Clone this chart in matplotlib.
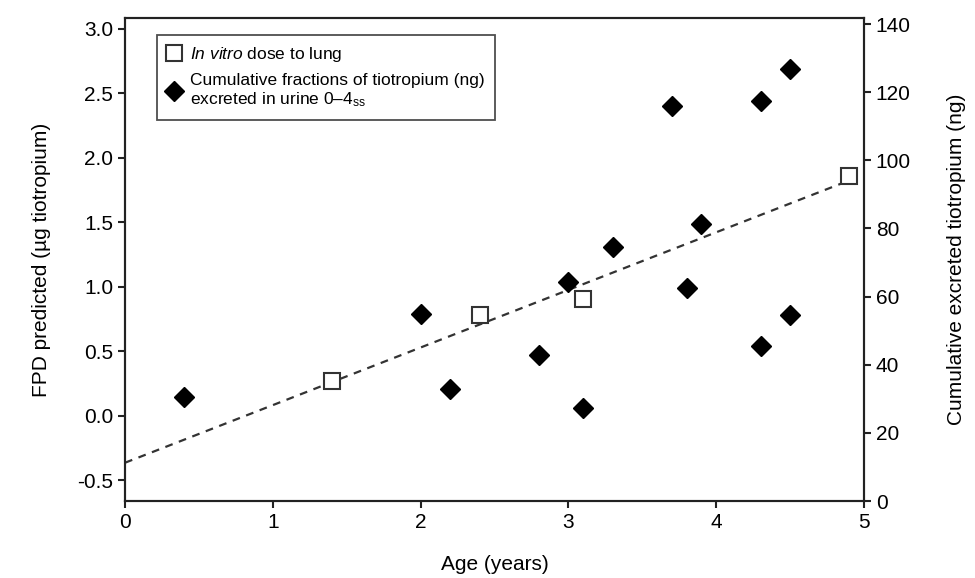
import numpy as np
import matplotlib
matplotlib.use("Agg")
import matplotlib.pyplot as plt
from matplotlib.lines import Line2D

plt.rcParams["font.family"] = ["Liberation Sans", "DejaVu Sans"]
plt.rcParams["mathtext.fontset"] = "custom"
plt.rcParams["mathtext.rm"] = "Liberation Sans"
plt.rcParams["mathtext.it"] = "Liberation Sans:italic"

# in vitro dose to lung (left axis, ug)
vitro_age = [1.4, 2.4, 3.1, 4.9]
vitro_fpd = [0.27, 0.78, 0.91, 1.86]

# cumulative excreted tiotropium (right axis, ng)
urine_age = [0.4, 2.0, 2.2, 2.8, 3.0, 3.1, 3.3, 3.7, 3.8, 3.9, 4.3, 4.3, 4.5, 4.5]
urine_ng = [30.4, 54.8, 33.0, 43.0, 64.4, 27.2, 74.5, 116.0, 62.6, 81.4,
            117.5, 45.4, 126.7, 54.7]

left_ticks = [-0.5, 0.0, 0.5, 1.0, 1.5, 2.0, 2.5, 3.0]
right_ticks = [0, 20, 40, 60, 80, 100, 120, 140]

fig = plt.figure(figsize=(9.75, 5.78), dpi=100)
ax = fig.add_axes([0.1282, 0.1332, 0.7580, 0.8357])
ax2 = ax.twinx()

# regression line through the in vitro points
slope, icpt = np.polyfit(vitro_age, vitro_fpd, 1)
xs = np.array([0, vitro_age[-1]])
ax.plot(xs, slope * xs + icpt, linestyle=(0, (3.5, 3)), color="#333333", lw=1.6, zorder=2)

ax.plot(vitro_age, vitro_fpd, linestyle="none", marker="s", markersize=11,
        markerfacecolor="white", markeredgecolor="#333333", markeredgewidth=1.5, zorder=3)
ax2.plot(urine_age, urine_ng, linestyle="none", marker="D", markersize=10,
         color="black", zorder=3)

ax.set_xlim(0, 5)
ax.set_ylim(-0.659, 3.085)
ax2.set_ylim(0, 141.8)
ax.set_yticks(left_ticks)
ax.set_yticklabels([f"{v:.1f}" for v in left_ticks])
ax2.set_yticks(right_ticks)

for a in (ax, ax2):
    for s in a.spines.values():
        s.set_linewidth(1.5)
        s.set_color("#222222")
    a.tick_params(direction="out", length=5, width=1.5, labelsize=15, color="#222222")

ax.set_xlabel("Age (years)", fontsize=15, labelpad=17)
ax.set_ylabel("FPD predicted (µg tiotropium)", fontsize=15, labelpad=19)
ax2.set_ylabel("Cumulative excreted tiotropium (ng)", fontsize=15, labelpad=26)

handles = [
    Line2D([], [], linestyle="none", marker="s", markersize=11, markerfacecolor="white",
           markeredgecolor="#333333", markeredgewidth=1.5),
    Line2D([], [], linestyle="none", marker="D", markersize=10, color="black"),
]
labels = [r"$\mathit{In\ vitro}$ dose to lung",
          "Cumulative fractions of tiotropium (ng)\nexcreted in urine 0–4$_{\\rm ss}$"]
leg = ax2.legend(handles, labels, loc="upper left", bbox_to_anchor=(0.043, 0.965),
                 borderaxespad=0, fontsize=12.5, frameon=True, fancybox=False,
                 edgecolor="#222222", handlelength=0.8, handletextpad=0.5,
                 borderpad=0.6, labelspacing=0.5)
leg.get_frame().set_linewidth(1.3)

fig.savefig("out.png", dpi=100)
